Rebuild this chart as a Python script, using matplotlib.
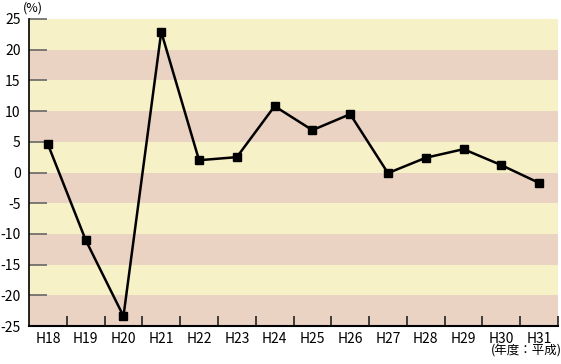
import matplotlib
matplotlib.use("Agg")
import matplotlib.pyplot as plt
import numpy as np

plt.rcParams['font.family'] = ['Noto Sans CJK JP', 'DejaVu Sans']

categories = ["H18", "H19", "H20", "H21", "H22", "H23", "H24", "H25", "H26", "H27", "H28", "H29", "H30", "H31"]
values = [4.6, -11.0, -23.4, 22.9, 2.0, 2.5, 10.8, 6.9, 9.5, -0.1, 2.4, 3.8, 1.2, -1.7]
yticks = [25, 20, 15, 10, 5, 0, -5, -10, -15, -20, -25]

fig = plt.figure(figsize=(5.61, 3.64), dpi=100)
ax = fig.add_axes([29/561, 1-326/364, 529/561, 307/364])

yellow = "#F6F1C7"
pink = "#EBD3C4"
for i, lo in enumerate(range(-25, 25, 5)):
    ax.axhspan(lo, lo + 5, color=pink if i % 2 == 0 else yellow, lw=0, zorder=0)

x = np.arange(len(categories))
ax.plot(x, values, color="black", lw=1.8, marker="s", ms=5.5, zorder=3)

ax.set_xlim(-0.5, len(categories) - 0.5)
ax.set_ylim(-25, 25)
ax.set_xticks(x)
ax.set_xticklabels(categories, fontsize=10)
ax.tick_params(axis='x', which='major', length=0, pad=4)
ax.set_xticks(np.arange(0.5, len(categories), 1), minor=True)
ax.tick_params(axis='x', which='minor', direction='in', length=7, width=1.2, color="#222222")
ax.set_yticks(yticks)
ax.set_yticklabels([str(v) for v in yticks], fontsize=10)
ax.tick_params(axis='y', direction='in', length=13, width=1.2, color="#666666", pad=6)

for s in ["top", "right"]:
    ax.spines[s].set_visible(False)
ax.spines["left"].set_linewidth(1.2)
ax.spines["bottom"].set_linewidth(1.5)

fig.text(33/561, 1-8/364, "(%)", fontsize=9, ha="center", va="center")
fig.text(526/561, 1-351/364, "(年度：平成)", fontsize=9, ha="center", va="center")

fig.savefig("out.png", dpi=100)
